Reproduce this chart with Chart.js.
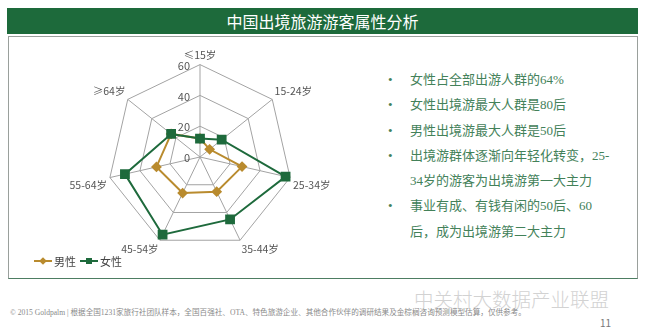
<!DOCTYPE html>
<html>
<head>
<meta charset="utf-8">
<script src="https://cdn.jsdelivr.net/npm/chart.js@4.4.1/dist/chart.umd.min.js"></script>
<style>
  body { margin: 0; width: 645px; height: 329px; background: #fff; position: relative; overflow: hidden;
         font-family: "Noto Sans CJK SC", sans-serif; }
  .title-bar { position: absolute; left: 7px; top: 8px; width: 631px; height: 26px; background: #1d6a3b;
               color: #fff; font-size: 16px; line-height: 26px; text-align: center; }
  .box { position: absolute; left: 8px; top: 36px; width: 628px; height: 241px;
         border: 1px solid #9aa09c; border-bottom-color: #4d7d62; }
  #chart-wrap { position: absolute; left: 50px; top: 44px; width: 300px; height: 217px; }
  .legend { position: absolute; left: 34px; top: 253px; font-size: 11px; color: #444; display: flex; align-items: center; }
  .legend-item { display: flex; align-items: center; margin-right: 4px; }
  .legend-mark { position: relative; width: 18px; height: 14px; margin-right: 2px; }
  .legend-mark .ln { position: absolute; left: 0; right: 0; top: 6px; height: 2px; }
  .legend-mark .pt { position: absolute; left: 6px; top: 4px; width: 6px; height: 6px; }
  .notes { position: absolute; left: 388px; top: 67px; font-family: "Liberation Serif", "Noto Sans CJK SC", serif;
           font-size: 13px; line-height: 25.3px; color: #438159; }
  .notes div { position: relative; padding-left: 22px; }
  .notes .b::before { content: "•"; position: absolute; left: 0; top: 0; color: #438159; }
  .footer { position: absolute; left: 10px; top: 306px; font-size: 7.6px; color: #8a8a8a; white-space: nowrap;
            font-family: "Liberation Serif", "Noto Sans CJK SC", serif; }
  .watermark { position: absolute; left: 414px; top: 284px; font-size: 19.5px; font-weight: 300; color: #d2d2d2; white-space: nowrap; }
  .page-no { position: absolute; left: 600px; top: 315px; font-size: 10px; color: #777; }
</style>
</head>
<body>
<div class="title-bar">中国出境旅游游客属性分析</div>
<div class="box"></div>
<div id="chart-wrap"><canvas id="radar"></canvas></div>
<div class="legend" id="legend"></div>
<div class="notes">
  <div class="b">女性占全部出游人群的64%</div>
  <div class="b">女性出境游最大人群是80后</div>
  <div class="b">男性出境游最大人群是50后</div>
  <div class="b">出境游群体逐渐向年轻化转变，25-</div>
  <div>34岁的游客为出境游第一大主力</div>
  <div class="b">事业有成、有钱有闲的50后、60</div>
  <div>后，成为出境游第二大主力</div>
</div>
<div class="watermark">中关村大数据产业联盟</div>
<div class="footer">© 2015 Goldpalm | 根据全国1231家旅行社团队样本，全国百强社、OTA、特色旅游企业、其他合作伙伴的调研结果及金棕榈咨询预测模型估算，仅供参考。</div>
<div class="page-no">11</div>

<script>
// 年齡組
const ageGroups = ['≤15岁', '15-24岁', '25-34岁', '35-44岁', '45-54岁', '55-64岁', '≥64岁'];
// 男性 / 女性 數值
const maleValues = [12, 8, 28, 25, 26, 29, 24];
const femaleValues = [12, 18, 57, 45, 56, 50, 24];
// 刻度
const rTicks = [0, 20, 40, 60];

const maleColor = '#b98b2e';
const femaleColor = '#1e6a3c';

// 刻度文字畫在軸線左側
const tickLabelPlugin = {
    id: 'tickLabels',
    afterDatasetsDraw(chart) {
        const scale = chart.scales.r;
        const ctx = chart.ctx;
        ctx.save();
        ctx.font = '11px "Noto Sans CJK SC", sans-serif';
        ctx.fillStyle = '#555';
        ctx.textAlign = 'right';
        ctx.textBaseline = 'middle';
        scale.ticks.forEach(tick => {
            const d = scale.getDistanceFromCenterForValue(tick.value);
            ctx.fillText(String(tick.value), scale.xCenter - 10, scale.yCenter - d + 1);
        });
        ctx.restore();
    }
};

const chart = new Chart(document.getElementById('radar'), {
    type: 'radar',
    data: {
        labels: ageGroups,
        datasets: [{
            label: '男性',
            data: maleValues,
            borderColor: maleColor,
            backgroundColor: maleColor,
            borderWidth: 2,
            pointStyle: 'rectRot',
            pointRadius: 4,
            fill: false,
            order: 1
        }, {
            label: '女性',
            data: femaleValues,
            borderColor: femaleColor,
            backgroundColor: femaleColor,
            borderWidth: 2,
            pointStyle: 'rect',
            pointRadius: 5.5,
            fill: false,
            order: 0
        }]
    },
    options: {
        responsive: true,
        maintainAspectRatio: false,
        animation: false,
        layout: { padding: 0 },
        elements: { line: { tension: 0 } },
        plugins: {
            legend: { display: false },
            tooltip: { enabled: false }
        },
        scales: {
            r: {
                min: 0,
                max: 60,
                afterBuildTicks: scale => {
                    scale.ticks = rTicks.map(v => ({ value: v }));
                },
                ticks: { display: false },
                grid: { color: '#a3a3a3', lineWidth: 1 },
                angleLines: { color: '#a3a3a3', lineWidth: 1 },
                pointLabels: {
                    color: '#555',
                    padding: 3,
                    font: { family: '"Noto Sans CJK SC", sans-serif', size: 10.5 }
                }
            }
        }
    },
    plugins: [tickLabelPlugin]
});

// 自製圖例（線 + 標記）
const legendEl = document.getElementById('legend');
chart.data.datasets.forEach(ds => {
    const item = document.createElement('div');
    item.className = 'legend-item';
    const isDiamond = ds.pointStyle === 'rectRot';
    item.innerHTML = `
        <span class="legend-mark">
            <span class="ln" style="background:${ds.borderColor}"></span>
            <span class="pt" style="background:${ds.borderColor};${isDiamond ? 'transform:rotate(45deg) scale(0.9);' : ''}"></span>
        </span>
        <span>${ds.label}</span>`;
    legendEl.appendChild(item);
});
</script>
</body>
</html>
